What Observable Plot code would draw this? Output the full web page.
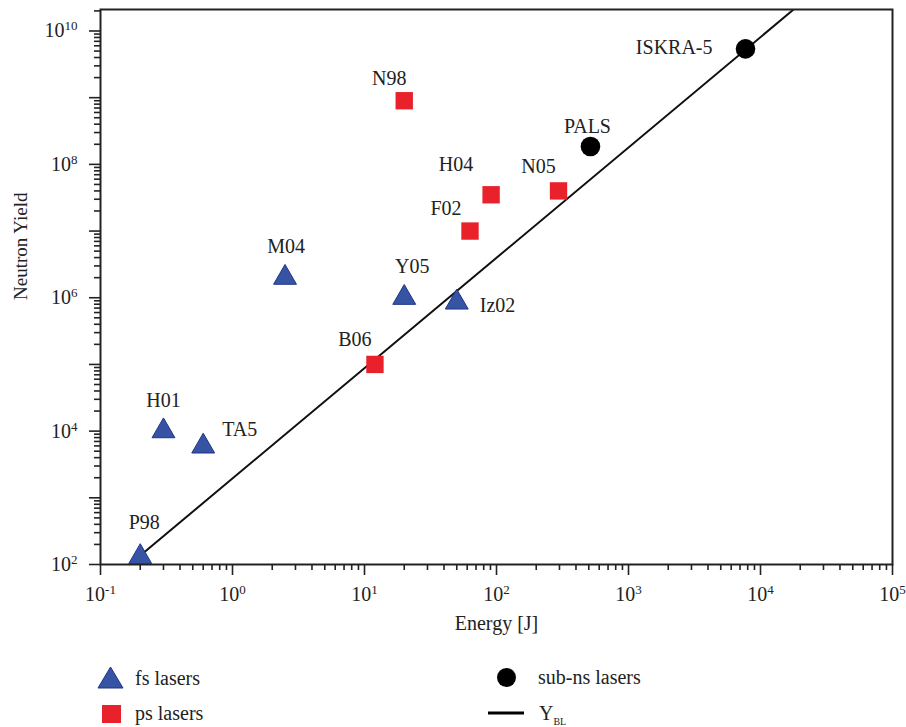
<!DOCTYPE html>
<html><head><meta charset="utf-8">
<script src="https://cdn.jsdelivr.net/npm/d3@7"></script>
<script src="https://cdn.jsdelivr.net/npm/@observablehq/plot@0.6"></script>
<style>
body{margin:0;background:#fff;}
#wrap{position:relative;width:906px;height:727px;font-family:"Liberation Serif",serif;}
#legend{position:absolute;left:0;top:650px;}
</style></head><body><div id="wrap"><div id="chart"></div><div id="legend"></div></div>
<script>
// fs lasers
const fsNames = ["P98","H01","TA5","M04","Y05","Iz02"];
const fsEnergy = [0.2,0.3,0.6,2.5,20,50];
const fsYield = [130,1e4,5900,2e6,1e6,8.5e5];
// ps lasers
const psNames = ["B06","N98","F02","H04","N05"];
const psEnergy = [12,20,63,91,295];
const psYield = [1e5,9e8,1e7,3.5e7,4e7];
// sub-ns lasers
const subnsNames = ["PALS","ISKRA-5"];
const subnsEnergy = [515,7700];
const subnsYield = [1.85e8,5.4e9];
// Y_BL line
const blEnergy = [0.166,17800];
const blYield = [100,2.1e10];
// ticks
const xDecades = [0.1,1,10,100,1000,10000,100000];
const xTickLabels = ["10^-1","10^0","10^1","10^2","10^3","10^4","10^5"];
const yDecades = [1e2,1e3,1e4,1e5,1e6,1e7,1e8,1e9,1e10];
const yLabelTicks = [1e2,1e4,1e6,1e8,1e10];
const yTickLabels = ["10^2","10^4","10^6","10^8","10^10"];

const FONT = "'Liberation Serif', serif";
const rows = (names, E, Y, group) => names.map((n,i)=>({name:n, energy:E[i], yield:Y[i], group}));
const fsRows = rows(fsNames, fsEnergy, fsYield, "fs");
const psRows = rows(psNames, psEnergy, psYield, "ps");
const subRows = rows(subnsNames, subnsEnergy, subnsYield, "subns");
const allRows = [...fsRows, ...psRows, ...subRows];
const blRows = blEnergy.map((e,i)=>({energy:e, yield:blYield[i]}));

const minor = (decades, top) => {
  const out = [];
  decades.forEach(d => { for (let k=2;k<=9;k++) if (d*k <= top) out.push(d*k); });
  return out;
};
const xMinor = minor(xDecades.slice(0,-1), 1e5);
const yMinor = minor([...yDecades], 2.1e10);

const labelLayout = {
  "P98": {dx:4, dy:-34, anchor:"middle"},
  "H01": {dx:0, dy:-31, anchor:"middle"},
  "TA5": {dx:19, dy:-17, anchor:"start"},
  "M04": {dx:1, dy:-31, anchor:"middle"},
  "Y05": {dx:8, dy:-31, anchor:"middle"},
  "Iz02": {dx:23, dy:3, anchor:"start"},
  "B06": {dx:-20, dy:-25, anchor:"middle"},
  "N98": {dx:-15, dy:-22, anchor:"middle"},
  "F02": {dx:-24, dy:-22, anchor:"middle"},
  "H04": {dx:-35, dy:-30, anchor:"middle"},
  "N05": {dx:-20, dy:-24, anchor:"middle"},
  "PALS": {dx:-3, dy:-20, anchor:"middle"},
  "ISKRA-5": {dx:-33, dy:-1, anchor:"end"}
};
const labelMarks = allRows.map(r => {
  const L = labelLayout[r.name];
  return Plot.text([r], {x:"energy", y:"yield", text:"name", dx:L.dx, dy:L.dy, textAnchor:L.anchor, lineAnchor:"middle", fontSize:20, fontFamily:FONT, fill:"#222"});
});

const chart = Plot.plot({
  width: 906, height: 650,
  marginLeft: 100, marginRight: 14, marginTop: 9, marginBottom: 86,
  style: {fontFamily: FONT, fontSize: "20px", color: "#222", background: "#fff"},
  x: {type: "log", domain: [0.1, 1e5]},
  y: {type: "log", domain: [100, 2.1e10]},
  marks: [
    Plot.line(blRows, {x:"energy", y:"yield", stroke:"#111", strokeWidth:2, clip:true}),
    Plot.axisX({ticks: xMinor, tickSize: 6, tickFormat: () => "", label: null, strokeWidth: 1.6}),
    Plot.axisX({ticks: xDecades, tickSize: 11, tickPadding: 11, tickFormat: d => xTickLabels[xDecades.indexOf(d)], label: null, strokeWidth: 1.6, fontSize: 20, fontFamily: FONT}),
    Plot.axisY({ticks: yMinor, tickSize: 6, tickFormat: () => "", label: null, strokeWidth: 1.6}),
    Plot.axisY({ticks: yDecades, tickSize: 11, tickPadding: 12, tickFormat: d => { const i = yLabelTicks.indexOf(d); return i >= 0 ? yTickLabels[i] : ""; }, label: null, strokeWidth: 1.6, fontSize: 20, fontFamily: FONT}),
    Plot.frame({stroke: "#222", strokeWidth: 2}),
    Plot.dot(fsRows, {x:"energy", y:"yield", symbol:"triangle", r:8.5, fill:"#3753a4", stroke:"#1f3588", strokeWidth:1}),
    Plot.dot(psRows, {x:"energy", y:"yield", symbol:"square", r:9.8, fill:"#e8212b"}),
    Plot.dot(subRows, {x:"energy", y:"yield", symbol:"circle", r:9.8, fill:"#000"}),
    ...labelMarks,
    Plot.text(["Neutron Yield"], {frameAnchor:"left", text: d => d, rotate:-90, dx:-80, dy:13, fontSize:19, fontFamily:FONT, fill:"#222"}),
    Plot.text(["Energy [J]"], {frameAnchor:"bottom", text: d => d, dy:65, fontSize:20, fontFamily:FONT, fill:"#222"})
  ]
});
// superscript tick labels
const NS = "http://www.w3.org/2000/svg";
chart.querySelectorAll("text").forEach(t => {
  const m = /^10\^(.+)$/.exec(t.textContent);
  if (m) {
    t.textContent = "10";
    const ts = document.createElementNS(NS, "tspan");
    ts.setAttribute("dy", "-7");
    ts.setAttribute("font-size", "13px");
    ts.textContent = m[1];
    t.appendChild(ts);
  }
});
document.getElementById("chart").appendChild(chart);

// legend below the chart
const leg = d3.select("#legend").append("svg").attr("width", 906).attr("height", 77)
  .style("font-family", FONT).style("font-size", "20px");
leg.append("polygon").attr("points", "110.5,17 123,38 98,38").attr("fill", "#3753a4").attr("stroke", "#1f3588").attr("stroke-width", 1);
leg.append("text").attr("x", 135).attr("y", 35).attr("fill", "#222").text("fs lasers");
leg.append("rect").attr("x", 102).attr("y", 55).attr("width", 19).attr("height", 18).attr("fill", "#e8212b");
leg.append("text").attr("x", 135).attr("y", 70).attr("fill", "#222").text("ps lasers");
leg.append("circle").attr("cx", 506.5).attr("cy", 27.5).attr("r", 9.5).attr("fill", "#000");
leg.append("text").attr("x", 538).attr("y", 34).attr("fill", "#222").text("sub-ns lasers");
leg.append("line").attr("x1", 488).attr("x2", 524).attr("y1", 63).attr("y2", 63).attr("stroke", "#000").attr("stroke-width", 3);
const yt = leg.append("text").attr("x", 539).attr("y", 70).attr("fill", "#222").text("Y");
yt.append("tspan").attr("dy", 5).attr("font-size", "10px").text("BL");
</script></body></html>
